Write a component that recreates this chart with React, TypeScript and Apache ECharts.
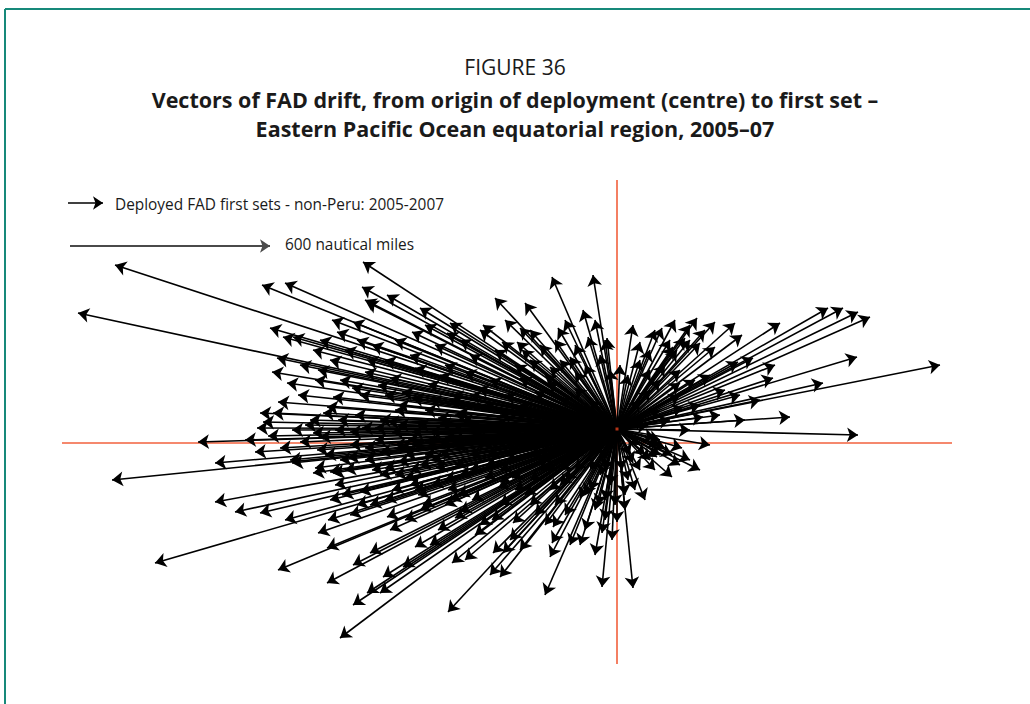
import React, { useEffect, useRef } from "react";
import * as echarts from "echarts";

// Drift vectors: [east, north] in nautical miles from deployment origin (0,0)
const vectorsNW: number[][] = [
  [-1506, 492], [-1617, 348], [-1065, 432], [-996, 438], [-762, 501], [-765, 426], [-690, 402], [-756, 387],
  [-591, 363], [-501, 318], [-615, 291], [-510, 288], [-366, 393], [-276, 378], [-195, 456], [-72, 462],
  [-402, 312], [-291, 303], [-345, 261], [-300, 261], [-285, 237], [-177, 303], [-141, 216], [-87, 276],
  [-36, 267], [-201, 186], [-1041, 303], [-1002, 276], [-972, 276], [-891, 267], [-855, 327], [-840, 291],
  [-792, 321], [-912, 237], [-780, 267], [-750, 207], [-750, 381], [-1020, 213], [-1035, 171], [-990, 138],
  [-1017, 81], [-957, 102], [-1071, 48], [-1062, 21], [-1080, 3], [-1032, 48], [-882, 48], [-870, 66],
  [-897, 177], [-852, 96], [-30, 273],
];

const vectorsNWFan: number[][] = [
  [-951, 192], [-906, 147], [-861, 207], [-816, 237], [-771, 102], [-735, 252], [-696, 207], [-666, 267],
  [-621, 222], [-576, 312], [-546, 252], [-516, 192], [-471, 267], [-441, 222], [-411, 297], [-366, 237],
  [-336, 327], [-306, 192], [-261, 297], [-231, 252], [-186, 267], [-156, 327], [-126, 252], [-102, 357],
  [-66, 327],
];

const vectorsSW: number[][] = [
  [-912, -12], [-900, -63], [-1257, -39], [-1206, -102], [-1515, -153], [-975, -102], [-1206, -219],
  [-1146, -249], [-1071, -252], [-996, -273], [-867, -273], [-906, -117], [-861, -129], [-897, -312],
  [-870, -357], [-1386, -402], [-1017, -423], [-792, -408], [-870, -462], [-792, -528], [-831, -627],
  [-741, -372], [-750, -492], [-711, -492], [-825, -198], [-780, -228], [-711, -138], [-690, -264],
  [-981, -93], [-912, -132], [-852, -132], [-642, -414], [-702, -444], [-507, -549], [-495, -402],
  [-606, -354], [-486, -267], [-312, -282], [-342, -372], [-372, -372], [-351, -444], [-381, -438],
  [-192, -294], [-195, -342], [-201, -384], [-216, -498], [-111, -348], [-45, -312], [-45, -474],
];

const vectorsSE: number[][] = [
  [24, -243], [0, -279], [48, -477], [120, -84], [165, -144], [48, -102], [129, -33],
];

const vectorsNE: number[][] = [
  [48, 312], [69, 261], [135, 303], [159, 267], [240, 333], [294, 321], [354, 318], [375, 282],
  [489, 318], [633, 363], [678, 363], [723, 351], [759, 336], [969, 192], [720, 216], [618, 138],
  [519, 36], [723, -18], [279, -48], [474, 192], [468, 153], [408, 213], [363, 201], [249, 258],
  [294, 246], [198, 66], [258, 36], [180, 237], [219, 267], [189, 138], [168, 246], [204, 273],
];

const vectorsNEFan: number[][] = [
  [99, 237], [144, 192], [189, 177], [234, 147], [279, 162], [324, 117], [369, 102], [429, 87],
  [189, 102], [249, 72], [309, 42], [384, 27], [114, 297], [174, 327], [219, 312], [264, 297],
  [84, 27], [219, -3], [129, -78], [189, -108],
];

const coreVectorsUpper: number[][] = [
  [-831, 147], [-795, 123], [-756, 171], [-717, 132], [-681, 153], [-645, 111], [-606, 183], [-567, 135],
  [-531, 162], [-495, 102], [-456, 171], [-417, 123], [-381, 147], [-336, 102], [-291, 153], [-246, 111],
  [-207, 141], [-171, 93], [-126, 123], [-81, 87],
  [-171, 207], [-126, 171], [-216, 162], [-261, 207], [-96, 192], [-51, 222], [-21, 177], [9, 192],
  [33, 162], [69, 207], [99, 177], [129, 147],
];

const coreVectorsMiddle: number[][] = [
  [-936, 12], [-891, -24], [-837, 27], [-801, -48], [-765, 3], [-726, -33], [-687, 21], [-651, -57],
  [-615, -9], [-576, -39], [-531, 15], [-486, -54], [-447, -3], [-405, -45], [-366, 9], [-321, -33],
  [-276, -9], [-231, -51], [-186, 3], [-141, -27],
  [-1116, -33], [-1086, -69], [-1047, -21], [-1011, -57], [-975, -3], [-951, -39], [-921, 27], [-876, -78],
  [-846, -3], [-816, -123], [-786, 42], [-756, -93], [-711, -69], [-666, 57], [-666, -138], [-627, -33],
  [-591, -108], [-561, 87], [-516, -153], [-486, 42], [-441, -78], [-396, 72], [-351, -123], [-306, 57],
  [-261, -78], [-216, 27], [-171, -123], [-126, 57], [-96, -63], [-66, 12],
];

const coreVectorsShort: number[][] = [
  [-501, 87], [-465, 27], [-426, -33], [-387, -78], [-351, 42], [-315, -3], [-276, -54], [-237, -93],
  [-441, 102], [-381, -33], [-336, -78], [-291, 72], [-246, -24], [-207, -69], [-171, -33], [-135, -78],
  [-105, -9], [-75, -48], [-531, -78], [-486, -108], [-441, -123], [-396, -147], [-351, -159], [-306, -183],
  [-261, -153], [-216, -123], [-171, -168], [-126, -123], [-81, -183], [-36, -123],
  [-711, 27], [-675, -9], [-636, -78], [-597, 12], [-555, -93], [-516, -27], [-477, 51], [-561, -9],
  [-621, -123], [-666, -48], [-696, -117], [-726, 3], [-756, -57], [-801, -9], [-831, -93],
];

const coreVectorsMid2: number[][] = [
  [-696, 102], [-657, 72], [-615, 93], [-576, 57], [-537, 33], [-495, -3], [-675, -183], [-636, -147],
  [-597, -198], [-555, -168], [-516, -228], [-477, -198], [-657, 12], [-615, -48], [-576, -78], [-531, -48],
];

const coreVectorsLower: number[][] = [
  [-846, -168], [-807, -87], [-771, -189], [-735, -123], [-696, -213], [-657, -99], [-621, -168],
  [-582, -228], [-543, -117], [-507, -183], [-471, -138], [-435, -213], [-393, -108], [-357, -177],
  [-315, -147], [-276, -198], [-237, -123], [-201, -183], [-156, -153], [-111, -207],
  [-636, -273], [-591, -243], [-537, -303], [-471, -249], [-426, -318], [-375, -273], [-321, -333],
  [-261, -228], [-216, -288], [-156, -258], [-96, -303], [-57, -228],
  [-861, -213], [-801, -258], [-741, -228], [-681, -303], [-606, -183], [-561, -348], [-501, -213],
  [-456, -393], [-411, -288], [-351, -228], [-291, -363], [-246, -258], [-186, -228], [-141, -348],
  [-96, -198], [-66, -378], [-36, -213], [-15, -333],
];

const coreVectorsEast: number[][] = [
  [69, 87], [99, 117], [129, 57], [159, 27], [93, 12], [114, -27], [144, -57], [84, -78], [69, -123],
  [33, -153], [15, -123], [-21, -168], [-51, -138], [-81, -123], [-51, -93],
  [39, -78], [69, -48], [99, -93], [54, -183], [84, -213], [24, -198], [-6, -228], [-36, -273],
  [-66, -243], [114, -123], [129, -48], [165, -78], [195, -57], [219, -93], [249, -123],
];

// Reference lines (nautical miles)
const xExtent = [-1665, 1005];
const yExtent = [-705, 747];
const horizontalRefNorth = -42;
const legendArrow = [[-1647, 678], [-1542, 678]];
const scaleBarStart = [-1641, 549];
const scaleBarLength = 600;

const titleLines = [
  "FIGURE 36",
  "Vectors of FAD drift, from origin of deployment (centre) to first set –",
  "Eastern Pacific Ocean equatorial region, 2005–07",
];
const legendLabel = "Deployed FAD first sets - non-Peru: 2005-2007";
const scaleLabel = "600 nautical miles";

const App: React.FC = () => {
  const ref = useRef<HTMLDivElement>(null);
  useEffect(() => {
    if (!ref.current) return;
    const chart = echarts.init(ref.current, undefined, { renderer: "svg" });
    const all = [
      ...coreVectorsShort,
      ...coreVectorsMid2,
      ...coreVectorsMiddle,
      ...coreVectorsUpper,
      ...coreVectorsLower,
      ...coreVectorsEast,
      ...vectorsNWFan,
      ...vectorsNEFan,
      ...vectorsNW,
      ...vectorsSW,
      ...vectorsSE,
      ...vectorsNE,
    ];
    const vectorData = all.map((v) => ({ coords: [[0, 0], [v[0], v[1]]] }));
    const font = "'Open Sans', 'Noto Sans', sans-serif";
    chart.setOption({
      animation: false,
      backgroundColor: "#ffffff",
      grid: { left: 62, right: 78, top: 180, bottom: 40 },
      xAxis: { type: "value", min: xExtent[0], max: xExtent[1], show: false },
      yAxis: { type: "value", min: yExtent[0], max: yExtent[1], show: false },
      series: [
        {
          type: "lines",
          coordinateSystem: "cartesian2d",
          silent: true,
          z: 1,
          symbol: "none",
          lineStyle: { color: "#f2603c", width: 1.6, opacity: 1 },
          data: [
            { coords: [[xExtent[0], horizontalRefNorth], [xExtent[1], horizontalRefNorth]] },
            { coords: [[0, yExtent[1]], [0, yExtent[0]]] },
          ],
        },
        {
          type: "lines",
          coordinateSystem: "cartesian2d",
          silent: true,
          z: 3,
          symbol: ["none", "arrow"],
          symbolSize: 11,
          lineStyle: { color: "#000000", width: 1.6, opacity: 1 },
          data: vectorData,
        },
        {
          type: "lines",
          coordinateSystem: "cartesian2d",
          silent: true,
          z: 3,
          symbol: ["none", "arrow"],
          symbolSize: 10,
          lineStyle: { color: "#000000", width: 1.5, opacity: 1 },
          data: [{ coords: legendArrow }],
        },
        {
          type: "lines",
          coordinateSystem: "cartesian2d",
          silent: true,
          z: 3,
          symbol: ["none", "arrow"],
          symbolSize: 10,
          lineStyle: { color: "#4a4a4a", width: 2, opacity: 1 },
          data: [
            {
              coords: [
                scaleBarStart,
                [scaleBarStart[0] + scaleBarLength, scaleBarStart[1]],
              ],
            },
          ],
        },
        {
          type: "scatter",
          silent: true,
          z: 5,
          symbol: "rect",
          symbolSize: 3,
          itemStyle: { color: "#e0401c" },
          data: [[0, 0]],
        },
      ],
      graphic: [
        {
          type: "line",
          shape: { x1: 5, y1: 9, x2: 1030, y2: 9 },
          style: { stroke: "#17897a", lineWidth: 2 },
        },
        {
          type: "line",
          shape: { x1: 5, y1: 9, x2: 5, y2: 704 },
          style: { stroke: "#17897a", lineWidth: 2 },
        },
        {
          type: "text",
          x: 515,
          y: 67,
          style: {
            text: titleLines[0],
            font: `21px ${font}`,
            fill: "#1a1a1a",
            align: "center",
            verticalAlign: "middle",
          },
        },
        {
          type: "text",
          x: 515,
          y: 99,
          style: {
            text: titleLines[1],
            font: `bold 21.5px ${font}`,
            fill: "#1a1a1a",
            align: "center",
            verticalAlign: "middle",
          },
        },
        {
          type: "text",
          x: 515,
          y: 128,
          style: {
            text: titleLines[2],
            font: `bold 21.5px ${font}`,
            fill: "#1a1a1a",
            align: "center",
            verticalAlign: "middle",
          },
        },
        {
          type: "text",
          x: 115,
          y: 204,
          style: {
            text: legendLabel,
            font: `15.4px ${font}`,
            fill: "#1a1a1a",
            align: "left",
            verticalAlign: "middle",
          },
        },
        {
          type: "text",
          x: 285,
          y: 244,
          style: {
            text: scaleLabel,
            font: `15.4px ${font}`,
            fill: "#1a1a1a",
            align: "left",
            verticalAlign: "middle",
          },
        },
      ],
    });
    return () => chart.dispose();
  }, []);
  return (
    <div
      ref={ref}
      style={{ position: "absolute", left: 0, top: 0, width: 1030, height: 704 }}
    />
  );
};

export default App;
